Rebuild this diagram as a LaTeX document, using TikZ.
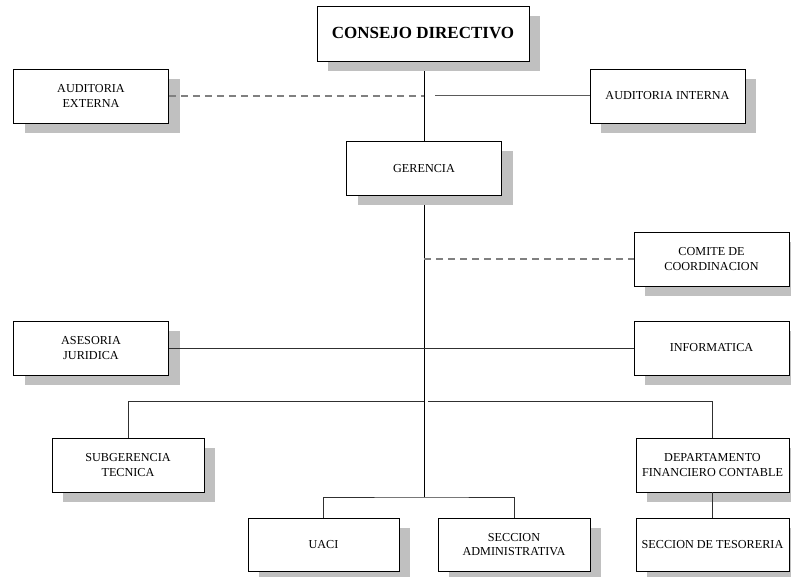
\documentclass[tikz,border=0pt]{standalone}
\usepackage{fontspec}
\setmainfont{Liberation Serif}
\usetikzlibrary{shadows}
\definecolor{shadowgray}{HTML}{C0C0C0}
\definecolor{dashgray}{HTML}{808080}
\definecolor{linegray}{HTML}{303030}
\tikzset{
  unitbox/.style={draw=black, line width=0.8pt, fill=white, inner sep=0pt,
    align=center, font=\fontsize{12.2}{14.5}\selectfont,
    drop shadow={shadow xshift=11pt, shadow yshift=-10pt, fill=shadowgray, opacity=1}},
  wide/.style={minimum width=155pt, minimum height=54pt},
  link/.style={draw=linegray, line width=0.8pt},
  spine/.style={draw=black, line width=0.9pt},
  advisory/.style={draw=dashgray, line width=1.2pt, dash pattern=on 7pt off 5pt},
  staffline/.style={draw=dashgray!70!black, line width=1pt}
}
\begin{document}
\begin{tikzpicture}[x=1pt, y=-1pt]
\useasboundingbox (0,0) rectangle (791,577);
\begin{scope}
\clip (0,0) rectangle (791,577);

% connectors first, boxes on top
\coordinate (top) at (424,61);
\coordinate (midbus) at (424,401);
\coordinate (lowbus) at (424,497);
\coordinate (auxL) at (424,96);
\coordinate (auxR) at (435,96);
\coordinate (comL) at (424,259);
\coordinate (busR) at (428,401);

\draw[spine] (top) -- (lowbus);

% boxes
\node[unitbox, minimum width=212pt, minimum height=55pt,
      font=\fontsize{17}{19}\selectfont\bfseries] (consejo) at (423,33.5) {CONSEJO DIRECTIVO};
\node[unitbox, wide] (audext) at (91,96) {AUDITORIA\\EXTERNA};
\node[unitbox, wide] (audint) at (667.5,96) {AUDITORIA INTERNA};
\node[unitbox, wide] (gerencia) at (424,168.5) {GERENCIA};
\node[unitbox, wide] (comite) at (711.5,259) {COMITE DE\\COORDINACION};
\node[unitbox, wide] (asesoria) at (91,348) {ASESORIA\\JURIDICA};
\node[unitbox, wide] (informatica) at (711.5,348) {INFORMATICA};
\node[unitbox, minimum width=152pt, minimum height=54pt] (subger) at (128,465) {SUBGERENCIA\\TECNICA};
\node[unitbox, minimum width=153pt, minimum height=54pt] (depto) at (712.5,465) {DEPARTAMENTO\\FINANCIERO CONTABLE};
\node[unitbox, minimum width=151pt, minimum height=53pt] (uaci) at (323.5,544.5) {UACI};
\node[unitbox, minimum width=152pt, minimum height=53pt] (secadm) at (514,544.5) {SECCION\\ADMINISTRATIVA};
\node[unitbox, minimum width=153pt, minimum height=53pt] (tesoreria) at (712.5,544.5) {SECCION DE TESORERIA};

% auditing lines
\draw[advisory] (audext.east) -- (auxL);
\draw[staffline] (auxR) -- (audint.west);

% coordination committee
\draw[advisory] (comL) -- (comite.west);

% staff units
\draw[link] (asesoria.east) -- (informatica.west);

% operational branches
\draw[link] (subger.north) |- (midbus);
\draw[link] (busR) -| (depto.north);
\draw[link] (uaci.north) |- (lowbus) -| (secadm.north);
\draw[link] (depto.south) -- (tesoreria.north);
\end{scope}
\end{tikzpicture}
\end{document}
